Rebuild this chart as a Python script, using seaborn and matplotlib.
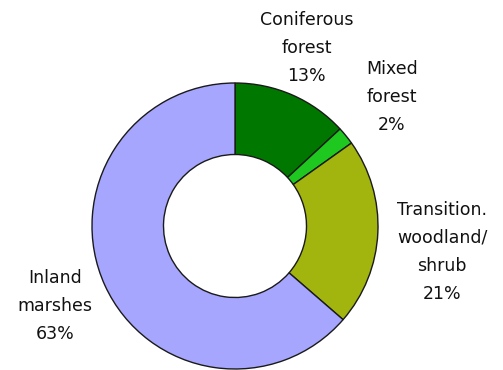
import matplotlib
matplotlib.use("Agg")
import matplotlib.pyplot as plt
import seaborn as sns

# Land cover shares (percent)
categories = ["Coniferous\nforest", "Mixed\nforest", "Transition.\nwoodland/\nshrub", "Inland\nmarshes"]
shares = [13, 2, 21, 63]
share_labels = ["13%", "2%", "21%", "63%"]
colors = ["#007800", "#1ec81e", "#a2b40e", "#a6a6ff"]

sns.set_theme(style="white")
plt.rcParams["font.family"] = ["DejaVu Sans"]

fig = plt.figure(figsize=(5.03, 3.70), dpi=100)
fig.patch.set_facecolor("white")
W, H = 503, 370
cx, cy, r = 235, 226, 143
ax = fig.add_axes([(cx - r) / W, (H - cy - r) / H, 2 * r / W, 2 * r / H])

wedges, _ = ax.pie(
    shares,
    colors=colors,
    startangle=90,
    counterclock=False,
    radius=1.0,
    wedgeprops=dict(width=0.5, edgecolor="#1a1a1a", linewidth=1.0),
)
for w in wedges:
    w.set_clip_on(False)
ax.set_xlim(-1, 1)
ax.set_ylim(-1, 1)
ax.set_aspect("equal")
ax.axis("off")

# label anchors (data units of the donut axes)
label_xy = [(0.503, 1.245), (1.098, 0.902), (1.448, -0.182), (-1.259, -0.559)]
for name, pct, (x, y) in zip(categories, share_labels, label_xy):
    ax.text(x, y, f"{name}\n{pct}", ha="center", va="center",
            fontsize=12.5, color="#111111", linespacing=1.72, clip_on=False)

fig.savefig("out.png", dpi=100, facecolor="white")
